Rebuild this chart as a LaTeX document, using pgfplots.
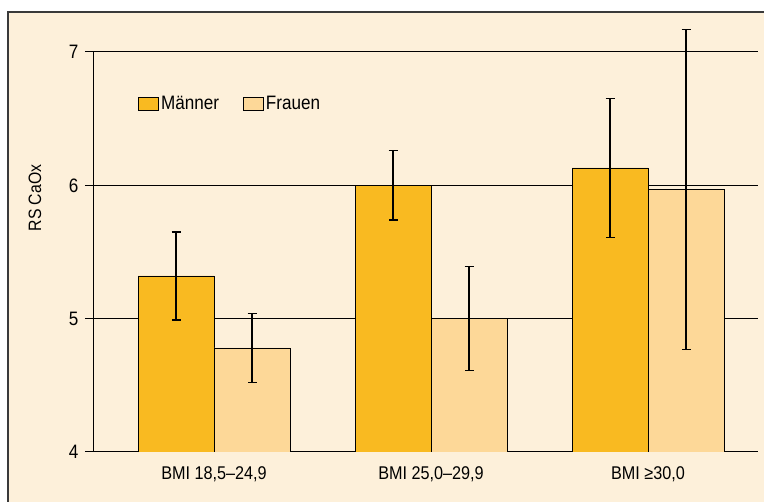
\documentclass[border=0pt]{standalone}
\usepackage{pgfplots}
\pgfplotsset{compat=1.18}
\usepackage{fontspec}
\setmainfont{Liberation Sans}[FakeStretch=0.88]
\definecolor{bgcream}{HTML}{FDF0DA}
\definecolor{maenner}{HTML}{F9BA21}
\definecolor{frauen}{HTML}{FDD898}
\definecolor{framec}{HTML}{3A3A3A}
\begin{document}
\begin{tikzpicture}
\useasboundingbox (0bp,0bp) rectangle (764bp,502bp);
\clip (0bp,0bp) rectangle (764bp,502bp);
\fill[white] (0bp,0bp) rectangle (764bp,502bp);
\filldraw[fill=bgcream, draw=framec, line width=1.2bp] (8bp,-10bp) rectangle (780bp,490bp);
\begin{axis}[
  at={(93bp,50bp)}, anchor=south west,
  scale only axis, width=665bp, height=433.33bp,
  ymin=4, ymax=7.25, xmin=-0.5576, xmax=2.5069,
  ybar, bar width=76bp,
  axis x line*=bottom, axis y line*=left,
  y axis line style={draw=none},
  x axis line style={line width=1bp, -},
  ytick={4,5,6,7},
  xtick={0,1,2},
  xticklabels={{BMI 18,5–24,9},{BMI 25,0–29,9},{BMI ≥30,0}},
  ymajorgrids, grid style={black, line width=1bp},
  tick align=outside, major tick length=8bp,
  ytick style={black, line width=1bp},
  xtick style={draw=none},
  /pgf/number format/assume math mode=true,
  yticklabel style={font=\fontsize{19.5}{21}\selectfont, xshift=-3bp},
  xticklabel style={font=\fontsize{18.5}{20}\selectfont, yshift=-3bp},
  ylabel={RS CaOx},
  ylabel style={font=\fontsize{18}{20}\selectfont, at={(axis description cs:-0.0872,0.586)}, anchor=center},
  legend style={at={(axis description cs:0.068,0.803)}, anchor=west, draw=none, fill=none,
    font=\fontsize{19.5}{21}\selectfont, inner sep=0pt,
    /tikz/every even column/.append style={column sep=22bp}},
  legend columns=2,
  legend image code/.code={\draw[#1, draw=black, line width=0.8bp] (0bp,-6.5bp) rectangle (20bp,6.5bp);},
]
\addplot[fill=maenner, draw=black, line width=0.8bp, bar shift=-38bp,
  error bars/.cd, y dir=both, y explicit,
  error bar style={line width=1.6bp, black},
  error mark options={rotate=90, mark size=4.5bp, line width=1.6bp, black}]
  coordinates {(0,5.32) +- (0,0.33) (1,6.00) +- (0,0.26) (2,6.13) +- (0,0.52)};
\addplot[fill=frauen, draw=black, line width=0.8bp, bar shift=38bp,
  error bars/.cd, y dir=both, y explicit,
  error bar style={line width=1.6bp, black},
  error mark options={rotate=90, mark size=4.5bp, line width=1.6bp, black}]
  coordinates {(0,4.78) +- (0,0.26) (1,5.00) +- (0,0.39) (2,5.97) +- (0,1.20)};
\legend{Männer, Frauen}
\draw[line width=1bp] (axis cs:-0.5576,4) -- (axis cs:-0.5576,7);
\end{axis}
\end{tikzpicture}
\end{document}
